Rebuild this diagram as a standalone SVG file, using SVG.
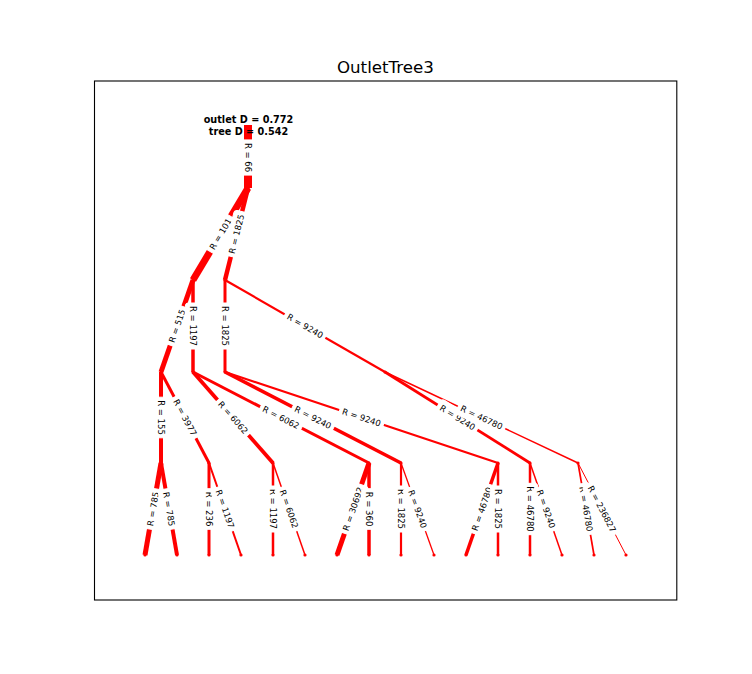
<svg xmlns="http://www.w3.org/2000/svg" width="752" height="674" viewBox="0 0 752 674">
<style>
.e{stroke:#ff0000;fill:none;stroke-linecap:butt}
.n{fill:#ff0000}
.lb{fill:#ffffff;stroke:#ffffff;stroke-width:1}
.el{font-family:"DejaVu Sans","Liberation Sans",sans-serif;font-size:8.5px;text-anchor:middle;fill:#000000}
.ann{font-family:"DejaVu Sans","Liberation Sans",sans-serif;font-size:9.7px;font-weight:bold;text-anchor:middle;fill:#000000}
.title{font-family:"DejaVu Sans","Liberation Sans",sans-serif;font-size:16.67px;text-anchor:middle;fill:#000000}
.b2{x:-17.6px}
</style>
<rect x="0" y="0" width="752" height="674" fill="#ffffff"/>
<text class="title" x="385.4" y="73">OutletTree3</text>
<rect x="94.5" y="81" width="582.3" height="519" fill="none" stroke="#000000" stroke-width="1.1"/>
<g id="connectors">
<line class="e" x1="248" y1="125" x2="248" y2="188" stroke-width="8"/>
<line class="e" x1="248" y1="188" x2="193" y2="280" stroke-width="7"/>
<line class="e" x1="248" y1="188" x2="225" y2="280" stroke-width="4.5"/>
<line class="e" x1="193" y1="280" x2="161" y2="372" stroke-width="5"/>
<line class="e" x1="193" y1="280" x2="193" y2="372" stroke-width="3.5"/>
<line class="e" x1="225" y1="280" x2="225" y2="372" stroke-width="3"/>
<line class="e" x1="225" y1="280" x2="385" y2="372" stroke-width="2.2"/>
<line class="e" x1="161" y1="372" x2="161" y2="463" stroke-width="4"/>
<line class="e" x1="161" y1="372" x2="209" y2="463" stroke-width="3"/>
<line class="e" x1="193" y1="372" x2="273" y2="463" stroke-width="3.8"/>
<line class="e" x1="193" y1="372" x2="369" y2="463" stroke-width="3"/>
<line class="e" x1="225" y1="372" x2="401" y2="463" stroke-width="3.5"/>
<line class="e" x1="225" y1="372" x2="498" y2="463" stroke-width="2.2"/>
<line class="e" x1="385" y1="372" x2="530" y2="463" stroke-width="2.8"/>
<line class="e" x1="385" y1="372" x2="578" y2="463" stroke-width="1.5"/>
<line class="e" x1="161" y1="463" x2="145" y2="555" stroke-width="5"/>
<line class="e" x1="161" y1="463" x2="177" y2="555" stroke-width="4"/>
<line class="e" x1="209" y1="463" x2="209" y2="555" stroke-width="3"/>
<line class="e" x1="209" y1="463" x2="241" y2="555" stroke-width="2"/>
<line class="e" x1="273" y1="463" x2="273" y2="555" stroke-width="2.5"/>
<line class="e" x1="273" y1="463" x2="305" y2="555" stroke-width="1.5"/>
<line class="e" x1="369" y1="463" x2="337" y2="555" stroke-width="5"/>
<line class="e" x1="369" y1="463" x2="369" y2="555" stroke-width="3.5"/>
<line class="e" x1="401" y1="463" x2="401" y2="555" stroke-width="2.2"/>
<line class="e" x1="401" y1="463" x2="434" y2="555" stroke-width="1.3"/>
<line class="e" x1="498" y1="463" x2="466" y2="555" stroke-width="3.5"/>
<line class="e" x1="498" y1="463" x2="498" y2="555" stroke-width="2.5"/>
<line class="e" x1="530" y1="463" x2="530" y2="555" stroke-width="2.5"/>
<line class="e" x1="530" y1="463" x2="562" y2="555" stroke-width="1.5"/>
<line class="e" x1="578" y1="463" x2="594" y2="555" stroke-width="1.7"/>
<line class="e" x1="578" y1="463" x2="626" y2="555" stroke-width="1"/>
</g>
<g id="n0"><circle class="n" cx="248" cy="127" r="1.6"/></g>
<g id="n1"><circle class="n" cx="248" cy="188" r="1.6"/></g>
<g id="nA"><circle class="n" cx="193" cy="280" r="1.6"/></g>
<g id="nB"><circle class="n" cx="225" cy="280" r="1.6"/></g>
<g id="nC"><circle class="n" cx="161" cy="372" r="1.6"/></g>
<g id="nD"><circle class="n" cx="193" cy="372" r="1.6"/></g>
<g id="nE"><circle class="n" cx="225" cy="372" r="1.6"/></g>
<g id="nF"><circle class="n" cx="385" cy="372" r="1.6"/></g>
<g id="nG"><circle class="n" cx="161" cy="463" r="1.6"/></g>
<g id="nH"><circle class="n" cx="209" cy="463" r="1.6"/></g>
<g id="nI"><circle class="n" cx="273" cy="463" r="1.6"/></g>
<g id="nJ"><circle class="n" cx="369" cy="463" r="1.6"/></g>
<g id="nK"><circle class="n" cx="401" cy="463" r="1.6"/></g>
<g id="nL"><circle class="n" cx="498" cy="463" r="1.6"/></g>
<g id="nM"><circle class="n" cx="530" cy="463" r="1.6"/></g>
<g id="nP"><circle class="n" cx="578" cy="463" r="1.6"/></g>
<g id="leaf1"><circle class="n" cx="145" cy="555" r="1.6"/></g>
<g id="leaf2"><circle class="n" cx="177" cy="555" r="1.6"/></g>
<g id="leaf3"><circle class="n" cx="209" cy="555" r="1.6"/></g>
<g id="leaf4"><circle class="n" cx="241" cy="555" r="1.6"/></g>
<g id="leaf5"><circle class="n" cx="273" cy="555" r="1.6"/></g>
<g id="leaf6"><circle class="n" cx="305" cy="555" r="1.6"/></g>
<g id="leaf7"><circle class="n" cx="337" cy="555" r="1.6"/></g>
<g id="leaf8"><circle class="n" cx="369" cy="555" r="1.6"/></g>
<g id="leaf9"><circle class="n" cx="401" cy="555" r="1.6"/></g>
<g id="leaf10"><circle class="n" cx="434" cy="555" r="1.6"/></g>
<g id="leaf11"><circle class="n" cx="466" cy="555" r="1.6"/></g>
<g id="leaf12"><circle class="n" cx="498" cy="555" r="1.6"/></g>
<g id="leaf13"><circle class="n" cx="530" cy="555" r="1.6"/></g>
<g id="leaf14"><circle class="n" cx="562" cy="555" r="1.6"/></g>
<g id="leaf15"><circle class="n" cx="594" cy="555" r="1.6"/></g>
<g id="leaf16"><circle class="n" cx="626" cy="555" r="1.6"/></g>
<g id="edge-labels">
<g transform="translate(248,157.5) rotate(90)"><rect class="lb" x="-17.6" y="-7.7" width="35.2" height="15.4" rx="3"/><text class="el" y="3">R = 66</text></g>
<g transform="translate(220.5,234) rotate(-59.1)"><rect class="lb" x="-20.3" y="-7.7" width="40.6" height="15.4" rx="3"/><text class="el" y="3">R = 101</text></g>
<g transform="translate(236.5,234) rotate(-76)"><rect class="lb" x="-23" y="-7.7" width="46" height="15.4" rx="3"/><text class="el" y="3">R = 1825</text></g>
<g transform="translate(177,326) rotate(-70.8)"><rect class="lb" x="-20.3" y="-7.7" width="40.6" height="15.4" rx="3"/><text class="el" y="3">R = 515</text></g>
<g transform="translate(193,326) rotate(90)"><rect class="lb" x="-23" y="-7.7" width="46" height="15.4" rx="3"/><text class="el" y="3">R = 1197</text></g>
<g transform="translate(225,326) rotate(90)"><rect class="lb" x="-23" y="-7.7" width="46" height="15.4" rx="3"/><text class="el" y="3">R = 1825</text></g>
<g transform="translate(305,326) rotate(29.9)"><rect class="lb" x="-23" y="-7.7" width="46" height="15.4" rx="3"/><text class="el" y="3">R = 9240</text></g>
<g transform="translate(161,417.5) rotate(90)"><rect class="lb" x="-20.3" y="-7.7" width="40.6" height="15.4" rx="3"/><text class="el" y="3">R = 155</text></g>
<g transform="translate(185,417.5) rotate(62.2)"><rect class="lb" x="-23" y="-7.7" width="46" height="15.4" rx="3"/><text class="el" y="3">R = 3977</text></g>
<g transform="translate(233,417.5) rotate(48.7)"><rect class="lb" x="-23" y="-7.7" width="46" height="15.4" rx="3"/><text class="el" y="3">R = 6062</text></g>
<g transform="translate(281,417.5) rotate(27.3)"><rect class="lb" x="-23" y="-7.7" width="46" height="15.4" rx="3"/><text class="el" y="3">R = 6062</text></g>
<g transform="translate(313,417.5) rotate(27.3)"><rect class="lb" x="-23" y="-7.7" width="46" height="15.4" rx="3"/><text class="el" y="3">R = 9240</text></g>
<g transform="translate(361.5,417.5) rotate(18.4)"><rect class="lb" x="-23" y="-7.7" width="46" height="15.4" rx="3"/><text class="el" y="3">R = 9240</text></g>
<g transform="translate(457.5,417.5) rotate(32.1)"><rect class="lb" x="-23" y="-7.7" width="46" height="15.4" rx="3"/><text class="el" y="3">R = 9240</text></g>
<g transform="translate(481.5,417.5) rotate(25.2)"><rect class="lb" x="-25.7" y="-7.7" width="51.4" height="15.4" rx="3"/><text class="el" y="3">R = 46780</text></g>
<g transform="translate(153,509) rotate(-80.1)"><rect class="lb" x="-20.3" y="-7.7" width="40.6" height="15.4" rx="3"/><text class="el" y="3">R = 785</text></g>
<g transform="translate(169,509) rotate(80.1)"><rect class="lb" x="-20.3" y="-7.7" width="40.6" height="15.4" rx="3"/><text class="el" y="3">R = 785</text></g>
<g transform="translate(209,509) rotate(90)"><rect class="lb" x="-20.3" y="-7.7" width="40.6" height="15.4" rx="3"/><text class="el" y="3">R = 236</text></g>
<g transform="translate(225,509) rotate(70.8)"><rect class="lb" x="-23" y="-7.7" width="46" height="15.4" rx="3"/><text class="el" y="3">R = 1197</text></g>
<g transform="translate(273,509) rotate(90)"><rect class="lb" x="-23" y="-7.7" width="46" height="15.4" rx="3"/><text class="el" y="3">R = 1197</text></g>
<g transform="translate(289,509) rotate(70.8)"><rect class="lb" x="-23" y="-7.7" width="46" height="15.4" rx="3"/><text class="el" y="3">R = 6062</text></g>
<g transform="translate(353,509) rotate(-70.8)"><rect class="lb" x="-25.7" y="-7.7" width="51.4" height="15.4" rx="3"/><text class="el" y="3">R = 30692</text></g>
<g transform="translate(369,509) rotate(90)"><rect class="lb" x="-20.3" y="-7.7" width="40.6" height="15.4" rx="3"/><text class="el" y="3">R = 360</text></g>
<g transform="translate(401,509) rotate(90)"><rect class="lb" x="-23" y="-7.7" width="46" height="15.4" rx="3"/><text class="el" y="3">R = 1825</text></g>
<g transform="translate(417.5,509) rotate(70.3)"><rect class="lb" x="-23" y="-7.7" width="46" height="15.4" rx="3"/><text class="el" y="3">R = 9240</text></g>
<g transform="translate(482,509) rotate(-70.8)"><rect class="lb" x="-25.7" y="-7.7" width="51.4" height="15.4" rx="3"/><text class="el" y="3">R = 46780</text></g>
<g transform="translate(498,509) rotate(90)"><rect class="lb" x="-23" y="-7.7" width="46" height="15.4" rx="3"/><text class="el" y="3">R = 1825</text></g>
<g transform="translate(530,509) rotate(90)"><rect class="lb" x="-25.7" y="-7.7" width="51.4" height="15.4" rx="3"/><text class="el" y="3">R = 46780</text></g>
<g transform="translate(546,509) rotate(70.8)"><rect class="lb" x="-23" y="-7.7" width="46" height="15.4" rx="3"/><text class="el" y="3">R = 9240</text></g>
<g transform="translate(586,509) rotate(80.1)"><rect class="lb" x="-25.7" y="-7.7" width="51.4" height="15.4" rx="3"/><text class="el" y="3">R = 46780</text></g>
<g transform="translate(602,509) rotate(62.4)"><rect class="lb" x="-28.4" y="-7.7" width="56.8" height="15.4" rx="3"/><text class="el" y="3">R = 236827</text></g>
</g>
<g id="root-annotation">
<text class="ann" x="248.5" y="122.8">outlet D = 0.772</text>
<text class="ann" x="248.5" y="134.8">tree D = 0.542</text>
</g>
</svg>
